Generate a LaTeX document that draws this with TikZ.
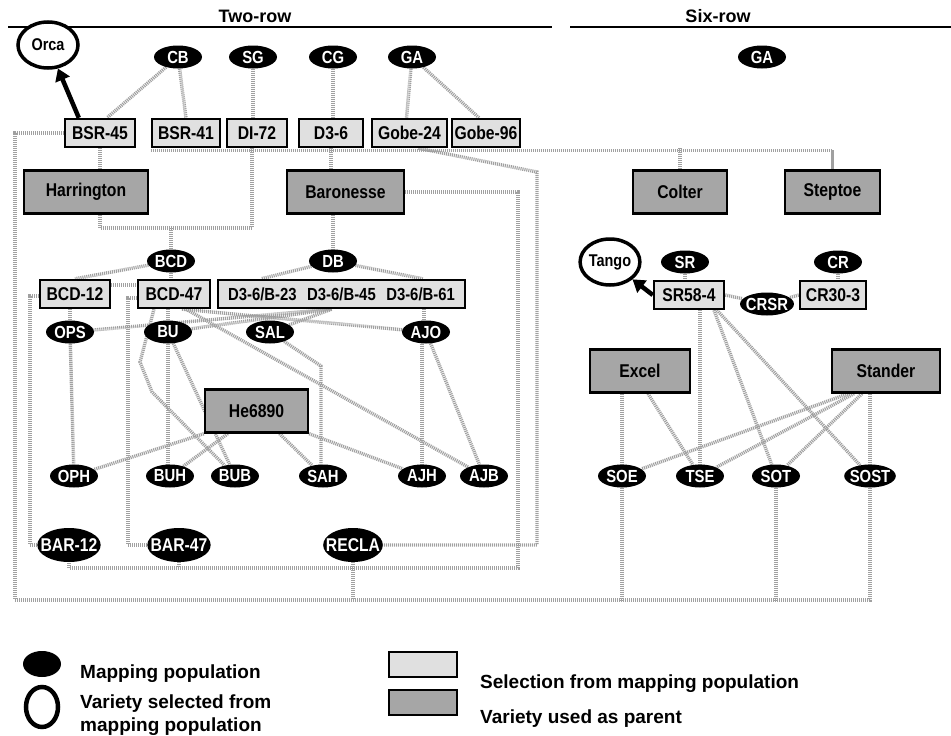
\documentclass[tikz,border=0pt]{standalone}
\usepackage{fontspec}
\setmainfont{Liberation Sans}[FakeStretch=0.85]
\newfontfamily\legfont{Liberation Sans}
\usetikzlibrary{shapes.geometric,arrows.meta,calc}
\definecolor{linkgray}{RGB}{160,160,160}
\definecolor{selfill}{RGB}{224,224,224}
\definecolor{parfill}{RGB}{166,166,166}
\pgfdeclarelayer{back}
\pgfsetlayers{back,main}
\begin{document}
\begin{tikzpicture}[x=1pt,y=-1pt,
  sel/.style={draw=black, line width=2.4pt, fill=selfill, inner sep=0pt, minimum height=28pt, font=\bfseries\fontsize{18.5}{20}\selectfont},
  par/.style={draw=black, line width=2.4pt, fill=parfill, inner sep=0pt, minimum height=43pt, minimum width=106pt, font=\bfseries\fontsize{18.5}{20}\selectfont},
  pop/.style={ellipse, fill=black, text=white, inner xsep=-2pt, inner ysep=0pt, minimum width=48pt, minimum height=23pt, font=\bfseries\fontsize{17.5}{18}\selectfont},
  bigpop/.style={pop, inner xsep=-6pt, minimum width=58pt, minimum height=34pt, font=\bfseries\fontsize{18.5}{20}\selectfont},
  var/.style={ellipse, draw=black, line width=3.5pt, fill=white, inner sep=0pt, minimum width=60pt, minimum height=46pt, font=\bfseries\fontsize{17}{18}\selectfont},
  link/.style={draw=linkgray, line width=3.4pt, dash pattern=on 1.1pt off 0.9pt},
  arr/.style={draw=black, line width=4.5pt, -{Triangle[length=12pt,width=15pt]}},
  ttl/.style={font=\legfont\bfseries\fontsize{18}{22}\selectfont},
  legtext/.style={font=\legfont\bfseries\fontsize{19}{23}\selectfont, inner sep=0pt},
  rule/.style={draw=black, line width=2.2pt}
]
\useasboundingbox (0,0) rectangle (951,736);
\begin{pgfonlayer}{back}
\fill[white] (0,0) rectangle (951,736);
\end{pgfonlayer}

% titles
\node[ttl] (t2) at (255,16) {Two-row};
\node[ttl] (t6) at (718,16) {Six-row};
\draw[rule] (8,27) -- (552,27);
\draw[rule] (570,27) -- (951,27);

% top row
\node[var] (orca) at (48,45) {Orca};
\node[pop] (cb) at (178,57) {CB};
\node[pop] (sg) at (253,57) {SG};
\node[pop] (cg) at (333,57) {CG};
\node[pop] (ga) at (412,57) {GA};
\node[pop] (gar) at (762,57) {GA};
\node[sel, minimum width=70pt] (bsr45) at (100,133) {BSR-45};
\node[sel, minimum width=68pt] (bsr41) at (186,133) {BSR-41};
\node[sel, minimum width=60pt] (di72) at (257,133) {DI-72};
\node[sel, minimum width=64pt] (d36) at (331,133) {D3-6};
\node[sel, minimum width=75pt] (gobe24) at (409.5,133) {Gobe-24};
\node[sel, minimum width=68pt] (gobe96) at (486,133) {Gobe-96};

% parents
\node[par, minimum width=124pt] (harr) at (86,192) {Harrington};
\node[par, minimum width=117pt] (baro) at (345.5,192) {Baronesse};
\node[par, minimum width=94pt] (colter) at (680,192) {Colter};
\node[par, minimum width=95pt] (steptoe) at (832.5,192) {Steptoe};

% second level
\node[pop] (bcd) at (171,261) {BCD};
\node[pop] (db) at (333,261) {DB};
\node[sel, minimum width=70pt] (bcd12) at (75,294) {BCD-12};
\node[sel, minimum width=72pt] (bcd47) at (174,294) {BCD-47};
\node[sel, minimum width=247pt, font=\bfseries\fontsize{17.5}{19}\selectfont] (d3b) at (341.5,294) {D3-6/B-23\hspace{.6em}D3-6/B-45\hspace{.6em}D3-6/B-61};

\node[var, minimum width=56pt, minimum height=46pt] (tango) at (610,262) {Tango};
\node[pop] (sr) at (685,262) {SR};
\node[pop] (cr) at (838,262) {CR};
\node[sel, minimum width=70pt] (sr58) at (689,295) {SR58-4};
\node[pop] (crsr) at (767,304) {CRSR};
\node[sel, minimum width=66pt] (cr30) at (833,295) {CR30-3};

% third level
\node[pop] (ops) at (70,332) {OPS};
\node[pop] (bu) at (168,332) {BU};
\node[pop] (sal) at (270,332) {SAL};
\node[pop] (ajo) at (426,332) {AJO};
\node[par, minimum width=103pt] (he) at (256.5,411) {He6890};
\node[par, minimum width=100pt] (excel) at (640,371) {Excel};
\node[par, minimum width=108pt] (stander) at (886,371) {Stander};

% fourth level
\node[pop] (oph) at (74,476) {OPH};
\node[pop] (buh) at (170,476) {BUH};
\node[pop] (bub) at (235,476) {BUB};
\node[pop] (sah) at (323,476) {SAH};
\node[pop] (ajh) at (422,476) {AJH};
\node[pop] (ajb) at (484,476) {AJB};
\node[pop] (soe) at (622,476) {SOE};
\node[pop] (tse) at (700,476) {TSE};
\node[pop] (sot) at (776,476) {SOT};
\node[pop] (sost) at (870,476) {SOST};

% fifth level
\node[bigpop] (bar12) at (69,545) {BAR-12};
\node[bigpop] (bar47) at (179,545) {BAR-47};
\node[bigpop] (recla) at (353,545) {RECLA};

% helper coordinates
\coordinate (lb) at (15,600);
\coordinate (ib) at (518,568);
\coordinate (gk) at (537,172);
\coordinate (hb) at (171,228);
\coordinate (c33) at (30,296);
\coordinate (c128) at (128,298);
\coordinate (la1) at (140,362);
\coordinate (la2) at (152,392);
\coordinate (sk) at (321,366);
\coordinate (b23t) at ($(d3b.north west)!0.178!(d3b.north east)$);
\coordinate (b61t) at ($(d3b.north west)!0.826!(d3b.north east)$);
\coordinate (b45b) at ($(d3b.south west)!0.46!(d3b.south east)$);
\coordinate (b61b) at ($(d3b.south west)!0.83!(d3b.south east)$);

\begin{pgfonlayer}{back}
% top
\draw[link] (cb) -- ($(bsr45.north)+(7,0)$);
\draw[link] (cb) -- (bsr41.north);
\draw[link] (sg) -- (sg |- di72.north);
\draw[link] (cg) -- (cg |- d36.north);
\draw[link] (ga) -- ($(gobe24.north)+(-3,0)$);
\draw[link] (ga) -- ($(gobe96.north)+(-7,0)$);
\draw[link] (bsr45.west) -| (lb) -| (sost.south);
\draw[link] (bsr45.south) -- (bsr45.south |- harr.north);
\draw[link] ($(bsr41.south west)+(0,2)$) -| (steptoe.north);
\draw[link] (colter.north) -- (colter.north |- bsr41.south);
\draw[link] (d36.south) -- (d36.south |- baro.north);
\draw[link] ($(gobe24.south)+(9,0)$) -- (gk) |- (recla.east);
\draw[link] (baro.east) -| (ib) -| (bar12.south);
\draw[link] (bar47.south) -- (bar47.south |- ib);
\draw[link] (recla.south) -- (recla.south |- lb);
\draw[link] (harr.south -| bsr45.south) |- (hb) -| ($(di72.south)+(-5,0)$);
\draw[link] (hb) -- (bcd.north);
\draw[link] (db.north |- baro.south) -- (db.north);
% second level
\draw[link] (bcd) -- (bcd12.north);
\draw[link] (bcd.south) -- (bcd.south |- bcd47.north);
\draw[link] ($(bcd12.east)+(0,-9)$) -- ($(bcd47.west)+(0,-9)$);
\draw[link] ($(bcd12.west)+(0,2)$) -- (c33) |- (bar12.west);
\draw[link] ($(bcd47.west)+(0,4)$) -- (c128) |- (bar47.west);
\draw[link] (db) -- (b23t);
\draw[link] (db) -- (b61t);
\draw[link] (b45b) -- (ops);
\draw[link] (b45b) -- (bu);
\draw[link] (b45b) -- (sal);
\draw[link] (b61b) -- (b61b |- ajo.north);
\draw[link] (ops.north |- bcd12.south) -- (ops.north);
\draw[link] (bu.north |- bcd47.south) -- (bu.north);
\draw[link] ($(bcd47.south)+(8,0)$) -- (ajo);
\draw[link] ($(bcd47.south)+(12,0)$) -- (ajb);
\draw[link] ($(bcd47.south)+(-20,0)$) -- (la1) -- (la2) -- (bub);
% third level
\draw[link] (bu) -- (bub);
\draw[link] (bu.south) -- (bu.south |- buh.north);
\draw[link] (ops) -- (oph);
\draw[link] (he.south west) -- (oph);
\draw[link] ($(he.south west)+(24,0)$) -- (buh);
\draw[link] ($(he.south)+(23,0)$) -- (sah);
\draw[link] (he.south east) -- (ajh);
\draw[link] (sal) -- (sk) -- (sah.north -| sk);
\draw[link] (ajh.north |- ajo.south) -- (ajh.north);
\draw[link] (ajo) -- (ajb);
% six-row
\draw[link] (sr.south) -- (sr.south |- sr58.north);
\draw[link] (cr.south) -- (cr.south |- cr30.north);
\draw[link] (sr58.east) -- (crsr);
\draw[link] (cr30.west) -- (crsr);
\draw[link] (tse.north |- sr58.south) -- (tse.north);
\draw[link] ($(sr58.south)+(25,0)$) -- (sot);
\draw[link] ($(sr58.south)+(28,0)$) -- (sost);
\draw[link] (soe.north |- excel.south) -- (soe.north);
\draw[link] (soe.south) -- (soe.south |- lb);
\draw[link] ($(excel.south)+(8,0)$) -- (tse);
\draw[link] ($(stander.south)+(-38,0)$) -- (soe);
\draw[link] ($(stander.south)+(-32,0)$) -- (tse);
\draw[link] ($(stander.south)+(-24,0)$) -- (sot);
\draw[link] (sost.north |- stander.south) -- (sost.north);
\draw[link] (sot.south) -- (sot.south |- lb);
\end{pgfonlayer}

% selection arrows
\draw[arr] ($(bsr45.north west)+(15,0)$) -- (orca);
\draw[arr] (sr58.west) -- (tango);

% legend
\fill[black] (42,664) ellipse [x radius=19pt, y radius=13pt];
\draw[black, line width=4.5pt] (42,707) ellipse [x radius=16pt, y radius=20pt];
\node[legtext, anchor=west] (lg1) at (80,674) {Mapping population};
\node[legtext, anchor=west, align=left] (lg2) at (80,715) {Variety selected from\\mapping population};
\draw[line width=2.4pt, fill=selfill] (389,652) rectangle (457,677);
\draw[line width=2.4pt, fill=parfill] (389,690) rectangle (457,715);
\node[legtext, anchor=west] (lg3) at (480,684) {Selection from mapping population};
\node[legtext, anchor=west] (lg4) at (480,719) {Variety used as parent};
\end{tikzpicture}
\end{document}
